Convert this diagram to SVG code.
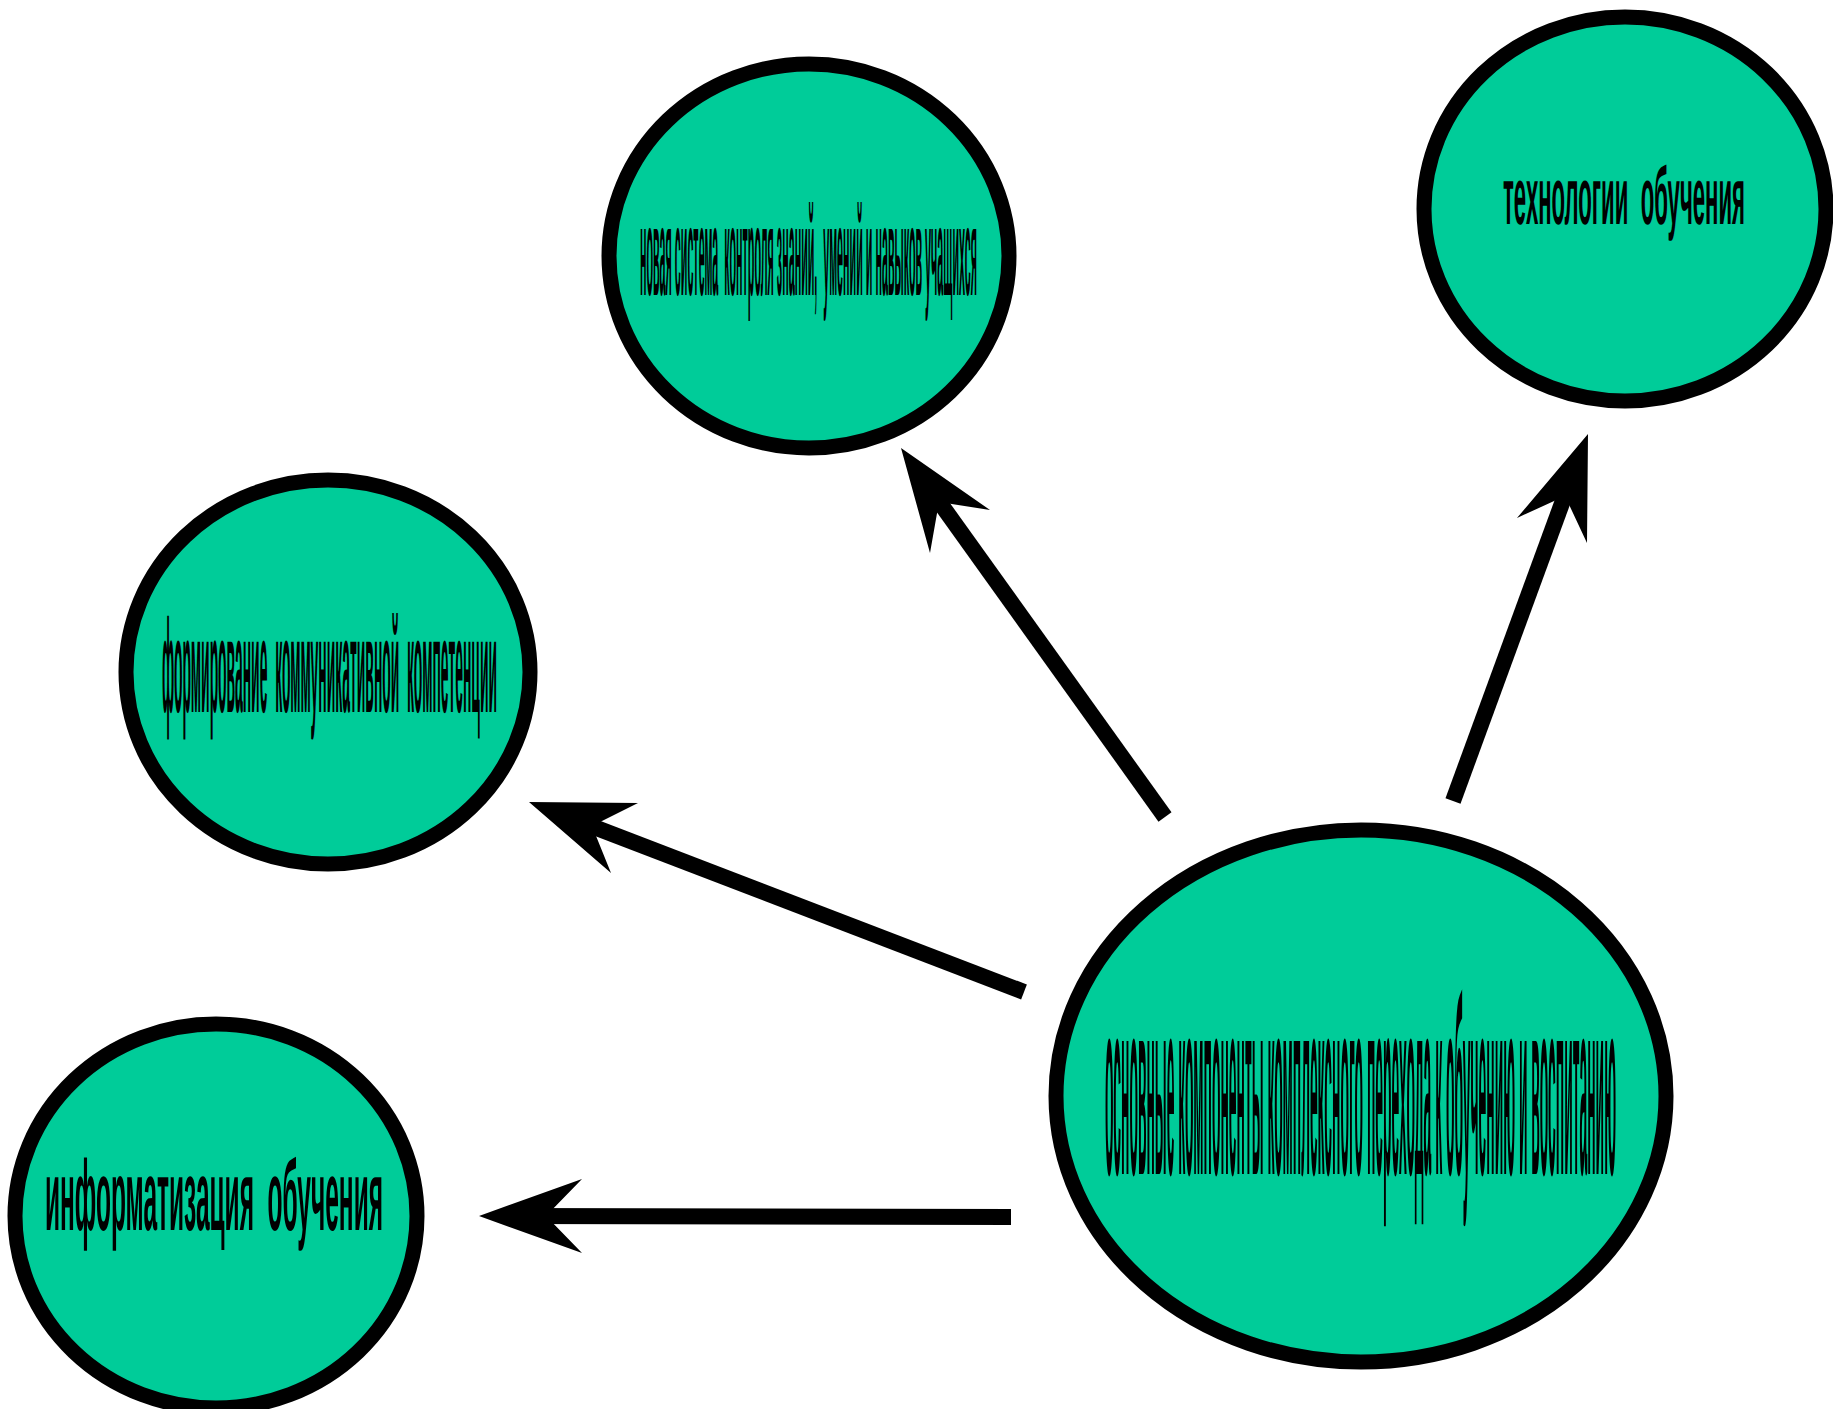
<svg xmlns="http://www.w3.org/2000/svg" width="1833" height="1409" viewBox="0 0 1833 1409">
<style>
.node ellipse{fill:#00CC99;stroke:#000;stroke-width:15}
.node text{font-family:"Liberation Sans",Arial,sans-serif;font-weight:bold;fill:#000;text-rendering:geometricPrecision}
.conn line{stroke:#000;stroke-width:16;stroke-linecap:butt}
.conn polygon{fill:#000}
</style>
<rect width="1833" height="1409" fill="#fff"/>
<g id="connectors" class="conn">
<line x1="1165" y1="817" x2="920" y2="475"/>
<polygon points="901,448 990,510 939,502 930,553"/>
<line x1="1453" y1="801" x2="1576" y2="465"/>
<polygon points="1588,434 1587,543 1565,496 1517,518"/>
<line x1="1024" y1="992" x2="560" y2="814"/>
<polygon points="529,802 638,803 592,826 611,873"/>
<line x1="1011" y1="1217" x2="512" y2="1216"/>
<polygon points="479,1216 582,1179 546,1216 582,1253"/>
</g>
<g id="node-control" class="node">
<ellipse cx="809" cy="256" rx="200" ry="192"/>
<text transform="matrix(1,0,0,11.57,640,295)" x="0" y="0" font-size="10.8" textLength="337" lengthAdjust="spacingAndGlyphs" xml:space="preserve">новая система  контроля знаний,  умений и навыков учащихся</text>
</g>
<g id="node-tech" class="node">
<ellipse cx="1625" cy="209" rx="201" ry="192"/>
<text transform="matrix(1,0,0,3.75,1503,224)" x="0" y="0" font-size="21.6" textLength="242" lengthAdjust="spacingAndGlyphs" xml:space="preserve">технологии  обучения</text>
</g>
<g id="node-comm" class="node">
<ellipse cx="328" cy="672" rx="202" ry="192"/>
<text transform="matrix(1,0,0,9.11,162,712)" x="0" y="0" font-size="14.6" textLength="335" lengthAdjust="spacingAndGlyphs" xml:space="preserve">формирование  коммуникативной  компетенции</text>
</g>
<g id="node-info" class="node">
<ellipse cx="216" cy="1216" rx="201" ry="192"/>
<text transform="matrix(1,0,0,4,45,1230)" x="0" y="0" font-size="25" textLength="338" lengthAdjust="spacingAndGlyphs" xml:space="preserve">информатизация  обучения</text>
</g>
<g id="node-main" class="node">
<ellipse cx="1361" cy="1096" rx="305" ry="266"/>
<text transform="matrix(1,0,0,17.87,1105,1174)" x="0" y="0" font-size="14.1" textLength="511" lengthAdjust="spacingAndGlyphs">основные компоненты комплексного перехода к обучению и воспитанию</text>
</g>
</svg>
